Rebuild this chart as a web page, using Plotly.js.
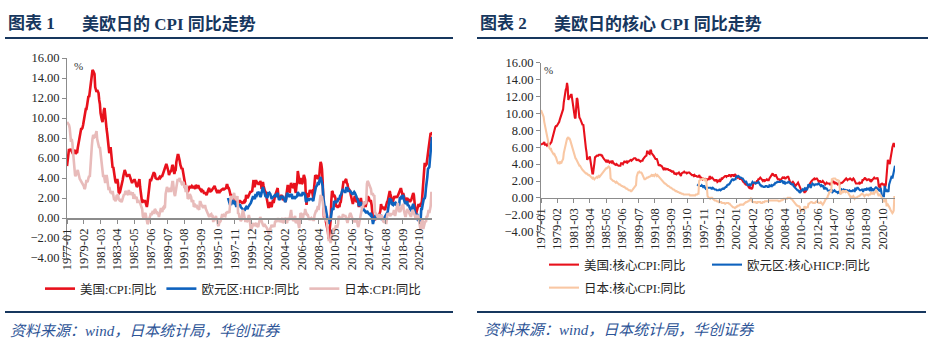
<!DOCTYPE html>
<html>
<head>
<meta charset="utf-8">
<script src="https://cdn.plot.ly/plotly-3.0.1.min.js"></script>
<style>
html,body{margin:0;padding:0;background:#fff;}
#chart{width:940px;height:351px;}
</style>
</head>
<body>
<div id="chart"></div>
<script>
// ---------- categories ----------
const startYear = 1977;
const monthCount = 545; // 1977-01 .. 2022-05
const months = [];
for (let i = 0; i < monthCount; i++) {
  const y = startYear + Math.floor(i / 12);
  const m = (i % 12) + 1;
  months.push(y + '-' + (m < 10 ? '0' + m : '' + m));
}
const euMonths = months.slice(months.indexOf('1997-01'));

const tickLabels = ['1977-01','1979-02','1981-03','1983-04','1985-05','1987-06','1989-07','1991-08',
  '1993-09','1995-10','1997-11','1999-12','2002-01','2004-02','2006-03','2008-04','2010-05',
  '2012-06','2014-07','2016-08','2018-09','2020-10'];

// ---------- chart 1: headline ----------
const usCPI = [
5.2,6.0,6.4,6.9,6.7,6.9,6.8,6.6,6.6,6.4,6.7,6.7,
6.8,6.4,6.6,6.5,7.0,7.4,7.7,7.9,8.3,8.9,8.9,9.0,
9.3,9.9,10.1,10.5,10.9,10.9,11.3,11.8,12.2,12.1,12.6,13.3,
13.9,14.2,14.8,14.7,14.4,14.4,13.1,12.9,12.6,12.8,12.6,12.5,
11.8,11.4,10.5,10.0,9.8,9.6,10.8,10.8,11.0,10.1,9.6,8.9,
8.4,7.6,6.8,6.5,6.7,7.1,6.4,5.9,5.0,5.1,4.6,3.8,
3.7,3.5,3.6,3.9,3.5,2.6,2.5,2.6,2.9,2.9,3.3,3.8,
4.2,4.6,4.8,4.6,4.2,4.2,4.2,4.3,4.3,4.3,4.1,3.9,
3.5,3.5,3.7,3.7,3.8,3.8,3.6,3.3,3.1,3.2,3.5,3.8,
3.9,3.1,2.3,1.6,1.5,1.8,1.6,1.6,1.8,1.5,1.3,1.1,
1.5,2.1,3.0,3.8,3.9,3.7,3.9,4.3,4.4,4.5,4.5,4.4,
4.0,3.9,3.9,3.9,3.9,4.0,4.1,4.0,4.2,4.2,4.2,4.4,
4.7,4.8,5.0,5.1,5.4,5.2,5.0,4.7,4.3,4.5,4.7,4.6,
5.2,5.3,5.2,4.7,4.4,4.7,4.8,5.6,6.2,6.3,6.3,6.1,
5.7,5.3,4.9,4.9,5.0,4.7,4.4,3.8,3.4,2.9,3.0,3.1,
2.6,2.8,3.2,3.2,3.0,3.1,3.2,3.1,3.0,3.2,3.0,2.9,
3.3,3.2,3.1,3.2,3.2,3.0,2.8,2.8,2.7,2.8,2.7,2.7,
2.5,2.5,2.5,2.4,2.3,2.5,2.8,2.9,3.0,2.6,2.7,2.7,
2.8,2.9,2.9,3.1,3.2,3.0,2.8,2.6,2.5,2.8,2.6,2.5,
2.7,2.7,2.8,2.9,2.9,2.8,3.0,2.9,3.0,3.0,3.3,3.3,
3.0,3.0,2.8,2.5,2.2,2.3,2.2,2.2,2.2,2.1,1.8,1.7,
1.6,1.4,1.4,1.4,1.7,1.7,1.7,1.6,1.5,1.5,1.5,1.6,
1.7,1.6,1.7,2.3,2.1,2.0,2.1,2.3,2.6,2.6,2.6,2.7,
2.7,3.2,3.8,3.1,3.2,3.7,3.7,3.4,3.5,3.4,3.4,3.4,
3.7,3.5,2.9,3.3,3.6,3.2,2.7,2.7,2.6,2.1,1.9,1.6,
1.1,1.1,1.5,1.6,1.2,1.1,1.5,1.8,1.5,2.0,2.2,2.4,
2.6,3.0,3.0,2.2,2.1,2.1,2.1,2.2,2.3,2.0,1.8,1.9,
1.9,1.7,1.7,2.3,3.1,3.3,3.0,2.7,2.5,3.2,3.5,3.3,
3.0,3.0,3.1,3.5,2.8,2.5,3.2,3.6,4.7,4.3,3.5,3.4,
4.0,3.6,3.4,3.5,4.2,4.3,4.1,3.8,2.1,1.3,2.0,2.5,
2.1,2.4,2.8,2.6,2.7,2.7,2.4,2.0,2.8,3.5,4.3,4.1,
4.3,4.0,4.0,3.9,4.2,5.0,5.6,5.4,4.9,3.7,1.1,0.1,
0.0,0.2,-0.4,-0.7,-1.3,-1.4,-2.1,-1.5,-1.3,-0.2,1.8,2.7,
2.6,2.1,2.3,2.2,2.0,1.1,1.2,1.1,1.1,1.2,1.1,1.5,
1.6,2.1,2.7,3.2,3.6,3.6,3.6,3.8,3.9,3.5,3.4,3.0,
2.9,2.9,2.7,2.3,1.7,1.7,1.4,1.7,2.0,2.2,1.8,1.7,
1.6,2.0,1.5,1.1,1.4,1.8,2.0,1.5,1.2,1.0,1.2,1.5,
1.6,1.1,1.5,2.0,2.1,2.1,2.0,1.7,1.7,1.7,1.3,0.8,
-0.1,0.0,-0.1,-0.2,0.0,0.1,0.2,0.2,0.0,0.2,0.5,0.7,
1.4,1.0,0.9,1.1,1.0,1.0,0.8,1.1,1.5,1.6,1.7,2.1,
2.5,2.7,2.4,2.2,1.9,1.6,1.7,1.9,2.2,2.0,2.2,2.1,
2.1,2.2,2.4,2.5,2.8,2.9,2.9,2.7,2.3,2.5,2.2,1.9,
1.6,1.5,1.9,2.0,1.8,1.6,1.8,1.7,1.7,1.8,2.1,2.3,
2.5,2.3,1.5,0.3,0.1,0.6,1.0,1.3,1.4,1.2,1.2,1.4,
1.4,1.7,2.6,4.2,5.0,5.4,5.4,5.3,5.4,6.2,6.8,7.0,
7.5,7.9,8.5,8.3,8.6];

const euHICP = [
2.0,1.8,1.6,1.3,1.4,1.4,1.6,1.7,1.6,1.5,1.6,1.5,
1.2,1.2,1.3,1.4,1.3,1.3,1.3,1.1,1.0,1.0,0.9,0.8,
0.8,0.8,1.0,1.1,1.0,0.9,1.1,1.2,1.2,1.4,1.5,1.7,
2.0,2.1,2.1,1.9,1.9,2.4,2.1,2.3,2.6,2.5,2.6,2.4,
2.1,2.2,2.4,2.8,3.1,2.8,2.5,2.3,2.1,2.3,2.0,2.1,
2.6,2.4,2.5,2.4,2.0,1.9,2.0,2.1,2.1,2.3,2.3,2.3,
2.1,2.4,2.5,2.1,1.8,1.9,1.9,2.1,2.2,2.0,2.2,2.0,
1.9,1.6,1.7,2.0,2.5,2.4,2.3,2.3,2.1,2.4,2.2,2.4,
1.9,2.1,2.1,2.1,2.0,2.1,2.2,2.2,2.6,2.5,2.3,2.2,
2.4,2.3,2.2,2.5,2.5,2.5,2.4,2.3,1.7,1.6,1.9,1.9,
1.8,1.8,1.9,1.9,1.9,1.9,1.8,1.7,2.1,2.6,3.1,3.1,
3.2,3.3,3.6,3.3,3.7,4.0,4.1,3.8,3.6,3.2,2.1,1.6,
1.1,1.2,0.6,0.6,0.0,-0.1,-0.6,-0.2,-0.3,-0.1,0.5,0.9,
0.9,0.8,1.6,1.6,1.7,1.5,1.7,1.6,1.9,1.9,1.9,2.2,
2.3,2.4,2.7,2.8,2.7,2.7,2.6,2.6,3.0,3.0,3.0,2.7,
2.7,2.7,2.7,2.6,2.4,2.4,2.4,2.6,2.6,2.5,2.2,2.2,
2.0,1.8,1.7,1.2,1.4,1.6,1.6,1.3,1.1,0.7,0.9,0.8,
0.8,0.7,0.5,0.7,0.5,0.5,0.4,0.4,0.3,0.4,0.3,-0.2,
-0.6,-0.3,-0.1,0.2,0.3,0.2,0.2,0.1,-0.1,0.1,0.1,0.2,
0.3,-0.2,0.0,-0.2,-0.1,0.1,0.2,0.2,0.4,0.5,0.6,1.1,
1.7,2.0,1.5,1.9,1.4,1.3,1.3,1.5,1.5,1.4,1.5,1.4,
1.3,1.1,1.4,1.2,2.0,2.0,2.1,2.0,2.1,2.3,1.9,1.5,
1.4,1.5,1.4,1.7,1.2,1.3,1.0,1.0,0.8,0.7,1.0,1.3,
1.4,1.2,0.7,0.3,0.1,0.3,0.4,-0.2,-0.3,-0.3,-0.3,-0.3,
0.9,0.9,1.3,1.6,2.0,1.9,2.2,3.0,3.4,4.1,4.9,5.0,
5.1,5.9,7.4,7.4,8.1];

const jpCPI = [
9.6,9.5,9.4,9.3,9.0,8.2,7.6,7.9,7.5,6.6,5.7,4.8,
4.3,4.2,4.5,4.6,4.8,4.5,4.1,3.9,3.8,3.7,3.5,3.4,
3.3,3.2,2.9,3.0,3.4,3.8,3.6,3.7,4.0,4.2,4.1,5.6,
6.5,7.2,7.9,8.3,8.2,8.1,8.2,8.5,8.7,7.9,7.6,7.2,
7.0,7.1,6.5,5.6,5.1,4.7,4.1,4.3,3.9,3.5,3.9,4.3,
3.9,3.2,2.8,3.1,2.8,2.5,2.6,2.4,2.7,2.2,1.9,1.9,
1.7,1.8,2.3,2.2,2.4,1.9,1.8,1.9,1.8,1.6,1.7,1.9,
2.3,2.4,2.3,2.7,2.6,2.5,2.4,2.3,2.8,2.3,2.3,2.6,
2.3,2.3,2.6,1.9,2.4,2.0,1.9,2.1,2.0,1.5,1.8,1.6,
1.6,1.5,1.2,1.1,0.9,0.2,0.0,0.4,0.4,0.5,0.1,-0.3,
-0.6,-0.5,-0.1,0.0,0.2,0.5,0.3,0.5,0.7,0.4,0.7,0.9,
0.8,0.6,0.4,0.5,0.4,0.1,0.4,0.8,1.0,0.8,0.6,1.0,
1.1,1.0,1.1,2.4,2.9,3.1,2.9,2.8,2.6,3.0,2.9,2.6,
3.2,3.6,3.6,2.5,2.4,2.2,2.6,2.8,3.1,3.9,3.7,3.8,
4.0,3.6,3.7,3.4,3.3,3.6,3.5,3.0,3.2,2.6,3.3,2.7,
1.9,2.0,2.0,2.4,2.2,2.1,1.6,1.7,1.8,1.1,1.3,1.3,
1.2,1.3,1.1,0.9,1.0,0.8,1.6,1.6,1.4,1.2,1.0,1.0,
1.2,1.2,1.2,0.9,0.7,0.6,0.4,0.2,0.1,0.3,0.4,0.4,
0.2,0.2,-0.4,0.1,0.1,0.0,0.2,-0.2,-0.2,-0.7,-0.8,-0.4,
-0.4,-0.3,0.1,0.3,0.3,0.1,0.3,0.2,0.2,0.5,0.5,0.6,
0.6,0.6,0.5,1.9,2.0,2.2,1.9,2.1,2.4,2.5,2.1,1.8,
1.8,1.9,2.2,0.4,0.5,0.1,-0.1,-0.3,-0.2,0.2,0.8,0.6,
0.2,-0.1,-0.4,-0.1,-0.4,-0.3,0.0,0.3,0.0,-0.7,-1.2,-1.1,
-0.9,-0.6,-0.5,-0.8,-0.7,-0.7,-0.5,-0.8,-0.8,-0.9,-0.5,-0.2,
0.1,-0.1,-0.4,-0.4,-0.7,-0.8,-0.8,-0.7,-0.8,-0.8,-1.0,-1.2,
-1.4,-1.6,-1.2,-1.1,-0.9,-0.7,-0.8,-0.9,-0.7,-0.9,-0.4,-0.3,
-0.4,-0.2,-0.1,-0.1,-0.2,-0.4,-0.2,-0.3,-0.2,0.0,-0.5,-0.4,
-0.3,0.0,-0.1,-0.4,-0.5,0.0,-0.1,-0.2,0.0,0.5,0.8,0.2,
-0.1,-0.3,-0.2,0.0,0.2,-0.5,-0.3,-0.3,-0.3,-0.8,-1.0,-0.4,
0.5,0.4,0.2,-0.1,0.1,0.5,0.3,0.9,0.6,0.4,0.3,0.3,
0.0,-0.2,-0.1,0.0,0.0,-0.2,0.0,-0.2,-0.2,0.3,0.6,0.7,
0.7,1.0,1.2,0.8,1.3,2.0,2.3,2.1,2.1,1.7,1.0,0.4,
0.0,-0.1,-0.3,-0.1,-1.1,-1.8,-2.2,-2.2,-2.2,-2.5,-1.9,-1.7,
-1.3,-1.1,-1.1,-1.2,-0.9,-0.7,-0.9,-0.9,-0.6,0.2,0.1,0.0,
0.0,0.0,0.0,0.3,0.3,0.2,0.2,0.2,0.0,-0.2,-0.5,-0.2,
0.1,0.3,0.5,0.4,0.2,-0.2,-0.4,-0.4,-0.3,-0.4,-0.2,-0.1,
-0.3,-0.7,-0.9,-0.7,-0.3,0.2,0.7,0.9,1.1,1.1,1.5,1.6,
1.4,1.5,1.6,3.4,3.7,3.6,3.4,3.3,3.2,2.9,2.4,2.4,
2.4,2.2,2.3,0.6,0.5,0.4,0.2,0.2,0.0,0.3,0.3,0.2,
0.0,0.3,-0.1,-0.3,-0.4,-0.4,-0.4,-0.5,-0.5,0.1,0.5,0.3,
0.4,0.3,0.2,0.4,0.4,0.4,0.4,0.7,0.7,0.2,0.6,1.0,
1.4,1.5,1.1,0.6,0.7,0.7,0.9,1.3,1.2,1.4,0.8,0.3,
0.2,0.2,0.5,0.9,0.7,0.7,0.5,0.3,0.2,0.2,0.5,0.8,
0.7,0.4,0.4,0.1,0.1,0.1,0.3,0.2,0.0,-0.4,-0.9,-1.2,
-0.6,-0.4,-0.2,-1.1,-0.8,-0.5,-0.3,-0.4,0.2,0.1,0.6,0.8,
0.5,0.9,1.2,2.5,2.5];

// ---------- chart 2: core ----------
const usCore = [
6.3,6.4,6.4,6.4,6.5,6.6,6.3,6.3,6.3,6.2,6.3,6.5,
6.2,6.3,6.4,6.5,6.6,6.9,7.2,7.5,7.9,8.3,8.4,8.5,
8.5,8.6,8.7,8.8,9.0,9.3,9.5,9.7,10.0,10.1,10.5,11.3,
12.0,11.9,12.8,13.0,13.6,13.1,11.6,11.8,11.9,12.2,12.2,12.2,
11.6,11.4,10.9,10.4,9.5,9.4,11.0,11.8,11.7,10.9,9.8,9.5,
9.4,9.2,8.9,8.7,8.6,8.7,7.8,7.4,6.9,5.9,5.4,4.5,
4.7,4.7,4.7,4.9,4.4,3.6,3.1,2.9,2.9,4.1,4.1,4.8,
4.9,4.9,5.0,5.0,5.0,5.1,5.1,5.1,5.1,5.0,5.0,4.8,
4.6,4.6,4.5,4.4,4.3,4.4,4.3,4.4,4.3,4.2,4.3,4.3,
4.2,4.3,4.4,4.1,4.1,4.0,3.9,3.9,4.0,3.9,3.9,3.8,
3.8,3.8,3.8,4.1,4.1,4.1,4.0,4.2,4.3,4.3,4.2,4.2,
4.3,4.2,4.3,4.3,4.4,4.5,4.5,4.4,4.5,4.5,4.6,4.7,
4.7,4.7,4.6,4.4,4.5,4.5,4.5,4.4,4.3,4.3,4.4,4.4,
4.4,4.6,4.8,4.8,4.9,5.0,5.0,5.5,5.5,5.3,5.2,5.2,
5.6,5.6,5.3,5.1,5.1,5.0,4.8,4.6,4.6,4.6,4.6,4.4,
3.9,3.8,3.9,3.9,3.8,3.8,3.7,3.6,3.4,3.5,3.5,3.3,
3.5,3.4,3.4,3.4,3.3,3.3,3.3,3.2,3.2,3.1,3.1,3.2,
2.9,2.8,2.9,2.8,2.8,2.9,2.9,2.9,3.0,2.9,2.8,2.6,
2.9,3.0,3.0,3.0,3.1,3.0,3.0,3.0,2.9,3.0,3.0,3.0,
3.0,2.9,2.8,2.7,2.7,2.7,2.7,2.6,2.7,2.6,2.6,2.6,
2.5,2.5,2.5,2.7,2.5,2.4,2.4,2.3,2.2,2.3,2.2,2.2,
2.2,2.3,2.1,2.1,2.2,2.2,2.2,2.5,2.5,2.3,2.4,2.4,
2.3,2.1,2.1,2.2,2.0,2.1,2.1,1.9,2.0,2.1,2.1,1.9,
2.0,2.2,2.4,2.3,2.4,2.5,2.5,2.6,2.6,2.5,2.6,2.6,
2.6,2.7,2.7,2.6,2.5,2.7,2.7,2.7,2.6,2.6,2.8,2.7,
2.6,2.6,2.4,2.5,2.5,2.3,2.2,2.4,2.2,2.2,2.0,1.9,
1.9,1.7,1.7,1.5,1.6,1.5,1.5,1.3,1.2,1.3,1.1,1.1,
1.1,1.2,1.6,1.8,1.7,1.9,1.8,1.7,2.0,2.0,2.2,2.2,
2.3,2.4,2.3,2.2,2.2,2.0,2.1,2.1,2.0,2.1,2.1,2.2,
2.1,2.1,2.1,2.3,2.4,2.6,2.7,2.8,2.9,2.7,2.6,2.6,
2.7,2.7,2.5,2.3,2.2,2.2,2.2,2.1,2.1,2.2,2.3,2.4,
2.5,2.3,2.4,2.3,2.3,2.4,2.5,2.5,2.5,2.2,2.0,1.8,
1.7,1.8,1.8,1.9,1.8,1.7,1.5,1.4,1.5,1.7,1.7,1.8,
1.6,1.3,1.1,0.9,0.9,0.9,0.9,0.9,0.8,0.6,0.8,0.8,
1.0,1.1,1.2,1.3,1.5,1.6,1.8,2.0,2.0,2.1,2.2,2.2,
2.3,2.2,2.3,2.3,2.3,2.2,2.1,1.9,2.0,2.0,1.9,1.9,
1.9,2.0,1.9,1.7,1.7,1.6,1.7,1.8,1.7,1.7,1.7,1.7,
1.6,1.6,1.7,1.8,2.0,1.9,1.9,1.7,1.7,1.8,1.7,1.6,
1.6,1.7,1.8,1.8,1.7,1.8,1.8,1.8,1.9,1.9,2.0,2.1,
2.2,2.3,2.2,2.1,2.2,2.2,2.2,2.3,2.2,2.1,2.1,2.2,
2.3,2.2,2.0,1.9,1.7,1.7,1.7,1.7,1.7,1.8,1.7,1.8,
1.8,1.8,2.1,2.1,2.2,2.3,2.4,2.2,2.2,2.1,2.2,2.2,
2.2,2.1,2.0,2.1,2.0,2.1,2.2,2.4,2.4,2.3,2.3,2.3,
2.3,2.4,2.1,1.4,1.2,1.2,1.6,1.7,1.7,1.6,1.6,1.6,
1.4,1.3,1.6,3.0,3.8,4.5,4.3,4.0,4.0,4.6,4.9,5.5,
6.0,6.4,6.5,6.2,6.0];

const euCore = [
1.6,1.5,1.4,1.4,1.4,1.4,1.4,1.5,1.4,1.3,1.4,1.4,
1.2,1.1,1.2,1.2,1.2,1.2,1.2,1.2,1.2,1.2,1.1,1.1,
1.2,1.1,1.1,1.0,1.0,1.0,0.9,0.9,0.9,0.9,1.0,1.0,
0.9,1.0,1.0,1.1,1.1,1.0,1.2,1.2,1.3,1.3,1.5,1.5,
1.6,1.6,1.7,1.9,2.1,2.1,2.2,2.2,2.1,2.2,2.2,2.2,
2.6,2.5,2.5,2.6,2.5,2.5,2.4,2.4,2.3,2.3,2.3,2.2,
2.0,2.0,1.8,2.0,1.7,1.6,1.5,1.5,1.6,1.5,1.5,1.6,
1.7,1.9,1.8,1.8,1.8,1.8,1.7,1.8,1.8,1.8,1.9,1.8,
1.5,1.5,1.5,1.3,1.4,1.3,1.3,1.3,1.3,1.4,1.4,1.4,
1.3,1.3,1.3,1.5,1.4,1.4,1.5,1.4,1.5,1.5,1.6,1.6,
1.8,1.8,1.8,1.9,1.9,1.9,1.9,1.9,1.9,2.0,2.0,2.0,
1.8,1.7,2.0,1.6,1.8,1.8,1.8,1.8,1.9,1.9,1.8,1.8,
1.6,1.7,1.5,1.7,1.4,1.3,1.2,1.2,1.0,0.9,0.9,0.9,
0.8,0.7,0.8,0.7,0.8,0.9,1.0,0.9,1.0,1.1,1.0,1.1,
1.0,1.0,1.3,1.6,1.5,1.6,1.2,1.3,1.6,1.7,1.6,1.6,
1.5,1.6,1.6,1.6,1.6,1.6,1.7,1.7,1.6,1.5,1.4,1.5,
1.3,1.3,1.5,1.0,1.2,1.2,1.1,1.1,1.0,0.8,0.9,0.7,
0.8,1.0,0.7,1.0,0.7,0.8,0.8,0.9,0.8,0.7,0.7,0.7,
0.6,0.7,0.6,0.6,0.9,0.8,1.0,0.9,0.9,1.0,0.9,0.9,
1.0,0.8,1.0,0.7,0.8,0.9,0.9,0.8,0.8,0.8,0.8,0.9,
0.9,0.9,0.7,1.2,0.9,1.1,1.2,1.2,1.1,0.9,0.9,0.9,
1.0,1.0,1.0,0.7,1.1,0.9,1.1,1.0,0.9,1.1,1.0,1.0,
1.1,1.0,0.8,1.3,0.8,1.1,0.9,0.9,1.0,1.1,1.3,1.3,
1.1,1.2,1.0,0.9,0.9,0.8,1.2,0.4,0.2,0.2,0.2,0.2,
1.4,1.1,0.9,0.7,1.0,0.9,0.7,1.6,1.9,2.0,2.6,2.6,
2.3,2.7,2.9,3.5,3.8];

const jpCore = [
10.4,10.2,10.0,9.9,9.6,9.0,8.6,8.2,7.8,7.3,6.8,6.4,
6.1,5.9,5.8,5.9,5.6,5.5,5.4,5.2,5.3,5.0,4.9,4.8,
4.4,4.3,4.1,4.1,4.2,4.1,4.2,4.1,4.3,4.4,4.6,5.3,
5.7,6.1,6.5,6.9,7.0,7.1,7.2,7.0,7.0,6.8,6.5,6.2,
5.9,5.6,5.3,5.0,4.8,4.7,4.6,4.4,4.2,4.1,4.0,3.8,
3.8,3.6,3.5,3.4,3.3,3.2,3.1,3.0,3.0,2.9,2.9,2.8,
2.8,2.7,2.7,2.6,2.6,2.5,2.4,2.3,2.4,2.3,2.2,2.3,
2.4,2.5,2.5,2.4,2.5,2.6,2.5,2.6,2.7,2.9,3.0,3.1,
3.2,3.3,3.3,3.4,3.5,3.5,3.6,3.7,3.7,3.6,3.5,2.3,
2.2,2.1,2.1,2.0,2.0,1.9,1.9,1.8,1.9,1.8,1.7,1.7,
1.6,1.6,1.5,1.5,1.4,1.4,1.3,1.3,1.3,1.2,1.2,1.1,
1.1,1.0,1.0,0.9,0.9,0.9,0.8,0.8,0.9,1.0,1.1,1.2,
1.3,1.4,1.5,2.5,2.8,3.0,3.0,3.1,3.0,3.0,3.0,2.9,
2.7,2.5,2.3,2.2,2.2,2.3,2.3,2.4,2.4,2.5,2.5,2.5,
2.6,2.6,2.7,2.6,2.7,2.7,2.6,2.7,2.8,2.7,2.6,2.7,
2.6,2.5,2.4,2.4,2.3,2.2,2.1,2.0,1.9,1.8,1.7,1.7,
1.6,1.5,1.5,1.4,1.4,1.3,1.3,1.2,1.2,1.1,1.1,1.0,
1.0,0.9,0.9,0.8,0.8,0.7,0.7,0.7,0.6,0.6,0.6,0.5,
0.5,0.5,0.5,0.4,0.4,0.4,0.4,0.4,0.4,0.4,0.4,0.4,
0.4,0.3,0.3,0.3,0.3,0.3,0.3,0.3,0.3,0.3,0.4,0.4,
0.4,0.5,0.5,2.0,2.1,2.2,2.2,2.2,2.3,2.3,2.2,2.1,
2.2,2.2,2.1,0.3,0.2,0.1,0.0,-0.1,-0.1,0.0,0.0,0.0,
-0.1,-0.2,-0.2,-0.3,-0.3,-0.3,-0.4,-0.4,-0.4,-0.5,-0.5,-0.5,
-0.5,-0.5,-0.6,-0.6,-0.6,-0.6,-0.6,-0.7,-0.6,-0.6,-0.6,-0.6,
-0.6,-0.7,-0.7,-0.8,-0.9,-1.0,-1.0,-1.1,-1.1,-1.2,-1.2,-1.1,
-1.1,-1.0,-1.0,-0.9,-0.9,-0.9,-0.8,-0.8,-0.8,-0.8,-0.8,-0.8,
-0.7,-0.6,-0.6,-0.5,-0.5,-0.4,-0.4,-0.4,-0.3,-0.2,-0.1,0.0,
-0.4,-0.5,-0.5,-0.5,-0.5,-0.5,-0.5,-0.6,-0.6,-0.5,-0.5,-0.5,
-0.5,-0.5,-0.6,-0.6,-0.6,-0.5,-0.5,-0.5,-0.4,-0.4,-0.4,-0.4,
-0.4,-0.4,-0.3,-0.3,-0.3,-0.3,-0.3,-0.3,-0.3,-0.3,-0.3,-0.3,
-0.3,-0.3,-0.3,-0.3,-0.3,-0.4,-0.4,-0.4,-0.3,-0.3,-0.3,-0.2,
-0.2,-0.1,-0.1,-0.1,-0.1,-0.1,-0.1,0.0,0.0,0.0,0.0,0.0,
-0.1,-0.1,-0.2,-0.3,-0.5,-0.6,-0.7,-0.8,-0.8,-0.9,-0.9,-1.0,
-1.0,-1.0,-1.1,-1.5,-1.5,-1.5,-1.5,-1.5,-1.3,-1.0,-1.1,-1.2,
-1.1,-1.1,-1.1,-0.7,-0.7,-0.6,-0.5,-0.5,-0.5,-0.6,-0.6,-0.6,
-0.6,-0.6,-0.5,-0.4,-0.4,-0.5,-0.6,-0.6,-0.6,-0.6,-0.5,-0.6,
-0.6,-0.8,-0.7,-0.4,-0.4,-0.2,-0.1,0.0,0.0,0.3,0.4,0.7,
0.7,0.8,0.7,2.3,2.2,2.3,2.3,2.3,2.3,2.2,2.1,2.1,
2.1,2.0,2.1,0.4,0.4,0.6,0.6,0.8,0.9,0.7,0.8,0.8,
0.7,0.8,0.7,0.7,0.6,0.5,0.3,0.2,0.0,0.2,0.1,0.1,
0.2,0.1,-0.1,0.0,0.0,0.0,0.1,0.2,0.2,0.2,0.3,0.3,
0.4,0.5,0.5,0.4,0.3,0.2,0.3,0.4,0.4,0.4,0.3,0.3,
0.4,0.4,0.4,0.6,0.5,0.5,0.5,0.6,0.5,0.7,0.8,0.9,
0.8,0.6,0.6,0.2,0.4,0.4,0.3,0.1,0.0,-0.2,-0.4,-0.5,
-0.3,-0.2,-0.1,-0.9,-0.9,-0.8,-0.9,-1.0,-1.2,-1.4,-1.5,-1.7,
-1.8,-1.7,-1.5,0.1,0.1];

// ---------- styling ----------
const W = 940, H = 351;
const px = v => v / W;
const py = v => 1 - v / H;
const RED = '#E8111C', BLUE = '#0E62BE', PINK = '#E8BBBA', PEACH = '#F9C7A3';
const NAVY = '#17375E';
const numFont = {family: 'Liberation Serif, Noto Sans CJK SC', size: 12.5, color: '#262626'};
const legFont = {family: 'Liberation Serif, Noto Sans CJK SC', size: 12.5, color: '#262626'};

function line(name, x, y, color, w, xa, ya, leg) {
  return {type: 'scatter', mode: 'lines', name: name, x: x, y: y,
    line: {color: color, width: w}, xaxis: xa, yaxis: ya, legend: leg, hoverinfo: 'skip'};
}

const data = [
  line('美国:CPI:同比', months, usCPI, RED, 2.6, 'x', 'y', 'legend'),
  line('欧元区:HICP:同比', euMonths, euHICP, BLUE, 2.6, 'x', 'y', 'legend'),
  line('日本:CPI:同比', months, jpCPI, PINK, 2.6, 'x', 'y', 'legend'),
  line('美国:核心CPI:同比', months, usCore, RED, 2.1, 'x2', 'y2', 'legend2'),
  line('欧元区:核心HICP:同比', euMonths, euCore, BLUE, 2.1, 'x2', 'y2', 'legend2'),
  line('日本:核心CPI:同比', months, jpCore, PEACH, 2.1, 'x2', 'y2', 'legend3')
];

function xAxis(domain, pos, yref) {
  return {domain: domain, anchor: 'free', overlaying: undefined, position: pos,
    type: 'category', categoryorder: 'array', categoryarray: months,
    range: [0, monthCount - 1], tickmode: 'array', tickvals: tickLabels, ticktext: tickLabels,
    tickangle: -90, ticks: 'outside', ticklen: 4, tickcolor: '#8c8c8c', tickwidth: 1,
    showline: true, linecolor: '#8c8c8c', linewidth: 1.5, showgrid: false, zeroline: false,
    tickfont: numFont, fixedrange: true};
}
function yAxis(domain, xa) {
  return {domain: domain, anchor: xa, range: [-4, 16], tick0: -4, dtick: 2, tickformat: '.2f',
    ticks: 'outside', ticklen: 4, tickcolor: '#8c8c8c', showline: true, linecolor: '#8c8c8c',
    linewidth: 1, showgrid: false, zeroline: false, tickfont: numFont, fixedrange: true};
}

const layout = {
  width: W, height: H, margin: {l: 0, r: 0, t: 0, b: 0},
  paper_bgcolor: '#fff', plot_bgcolor: 'rgba(0,0,0,0)', showlegend: true,
  xaxis: xAxis([px(67), px(432)], py(218)),
  yaxis: yAxis([py(258), py(58)], 'x'),
  xaxis2: xAxis([px(541), px(895)], py(197.7)),
  yaxis2: yAxis([py(231.7), py(62.7)], 'x2'),
  legend: {orientation: 'h', x: px(40), y: py(289), xanchor: 'left', yanchor: 'middle',
    font: legFont, bgcolor: 'rgba(0,0,0,0)', itemwidth: 30, tracegroupgap: 0},
  legend2: {orientation: 'h', x: px(544), y: py(265), xanchor: 'left', yanchor: 'middle',
    font: legFont, bgcolor: 'rgba(0,0,0,0)', itemwidth: 30, entrywidth: 118},
  legend3: {orientation: 'h', x: px(544), y: py(288), xanchor: 'left', yanchor: 'middle',
    font: legFont, bgcolor: 'rgba(0,0,0,0)', itemwidth: 30},
  shapes: [
    {type: 'line', xref: 'paper', yref: 'paper', x0: px(5), x1: px(453), y0: py(38), y1: py(38), line: {color: NAVY, width: 2.2}},
    {type: 'line', xref: 'paper', yref: 'paper', x0: px(477), x1: px(928), y0: py(38), y1: py(38), line: {color: NAVY, width: 2.2}},
    {type: 'line', xref: 'paper', yref: 'paper', x0: px(5), x1: px(453), y0: py(312), y1: py(312), line: {color: NAVY, width: 2.2}},
    {type: 'line', xref: 'paper', yref: 'paper', x0: px(477), x1: px(926), y0: py(312), y1: py(312), line: {color: NAVY, width: 2.2}}
  ],
  annotations: [
    {text: '<b>图表 1</b>', x: px(6), y: py(24), xref: 'paper', yref: 'paper', xanchor: 'left', yanchor: 'middle', showarrow: false,
      font: {family: 'Liberation Serif, Noto Sans CJK SC', size: 17, color: NAVY}},
    {text: '<b>美欧日的 CPI 同比走势</b>', x: px(80), y: py(24), xref: 'paper', yref: 'paper', xanchor: 'left', yanchor: 'middle', showarrow: false,
      font: {family: 'Liberation Serif, Noto Sans CJK SC', size: 17, color: NAVY}},
    {text: '<b>图表 2</b>', x: px(478), y: py(24), xref: 'paper', yref: 'paper', xanchor: 'left', yanchor: 'middle', showarrow: false,
      font: {family: 'Liberation Serif, Noto Sans CJK SC', size: 17, color: NAVY}},
    {text: '<b>美欧日的核心 CPI 同比走势</b>', x: px(552), y: py(24), xref: 'paper', yref: 'paper', xanchor: 'left', yanchor: 'middle', showarrow: false,
      font: {family: 'Liberation Serif, Noto Sans CJK SC', size: 17, color: NAVY}},
    {text: '%', x: px(78), y: py(66), xref: 'paper', yref: 'paper', xanchor: 'center', yanchor: 'middle', showarrow: false,
      font: {family: 'Liberation Serif', size: 11, color: '#333'}},
    {text: '%', x: px(548), y: py(70), xref: 'paper', yref: 'paper', xanchor: 'center', yanchor: 'middle', showarrow: false,
      font: {family: 'Liberation Serif', size: 11, color: '#333'}},
    {text: '<i>资料来源：wind，日本统计局，华创证券</i>', x: px(8), y: py(331), xref: 'paper', yref: 'paper', xanchor: 'left', yanchor: 'middle', showarrow: false,
      font: {family: 'Liberation Serif, Noto Sans CJK SC', size: 15, color: '#2E5597'}},
    {text: '<i>资料来源：wind，日本统计局，华创证券</i>', x: px(482), y: py(330), xref: 'paper', yref: 'paper', xanchor: 'left', yanchor: 'middle', showarrow: false,
      font: {family: 'Liberation Serif, Noto Sans CJK SC', size: 15, color: '#2E5597'}}
  ]
};

Plotly.newPlot('chart', data, layout, {staticPlot: true, displayModeBar: false});
</script>
</body>
</html>
